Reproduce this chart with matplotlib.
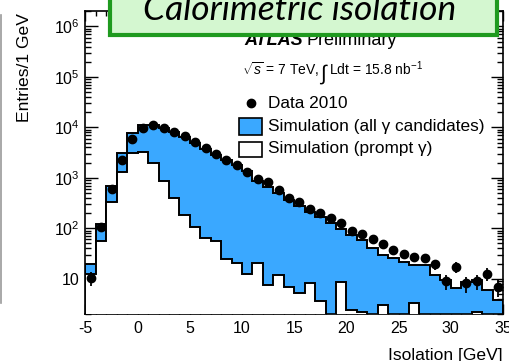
import numpy as np
import matplotlib
matplotlib.use("Agg")
import matplotlib.pyplot as plt
from matplotlib.patches import Rectangle
from matplotlib.ticker import FixedLocator, FixedFormatter, LogLocator, NullFormatter, MultipleLocator

# Isolation energy histograms, 1 GeV bins from -5 to 35 GeV
bin_edges = np.arange(-5, 36, 1)

sim_all_gamma = [19.8, 120, 695, 3126, 7780, 10960, 11220, 9780, 8150, 6490,
                 4930, 3750, 2850, 2270, 1807, 1366, 873, 664, 505, 367,
                 279, 212, 169, 129, 98, 74, 59, 41, 30, 26,
                 21.7, 18.9, 18.9, 12.0, 9.5, 6.6, 8.7, 9.5, 6.1, 3.8]

sim_prompt = [12.6, 56.5, 335, 1315, 3055, 3200, 1983, 873, 402, 181,
              105, 65, 56.5, 24.9, 20.7, 12.6, 20.7, 7.6, 12.0, 6.9,
              5.3, 8.3, 3.7, 0, 8.7, 2.43, 2.22, 0, 3.05, 0,
              0, 3.35, 0, 0, 0, 0, 0, 2.22, 0, 0]

data_2010 = [10.5, 107, 606, 2270, 5920, 9780, 11220, 9780, 7960, 6640,
             5050, 3925, 2985, 2270, 1807, 1315, 955, 815, 578, 402,
             335, 243, 198, 158, 126, 89, 78, 60.5, 48, 36.6,
             30.5, 26.7, 25.5, 19.4, 9.1, 16.9, 8.1, 8.9, 12.6, 6.9]

x_ticks = [-5, 0, 5, 10, 15, 20, 25, 30, 35]
y_ticks = [10, 1e2, 1e3, 1e4, 1e5, 1e6]
y_tick_labels = ["10", r"$10^{2}$", r"$10^{3}$", r"$10^{4}$", r"$10^{5}$", r"$10^{6}$"]

BLUE = "#3aa8ff"
W, H = 510, 361

plt.rcParams["font.family"] = ["Liberation Sans", "DejaVu Sans"]
plt.rcParams["axes.unicode_minus"] = False
plt.rcParams["mathtext.fontset"] = "custom"
plt.rcParams["mathtext.rm"] = "Liberation Sans"
plt.rcParams["mathtext.it"] = "Liberation Sans:italic"
plt.rcParams["mathtext.bf"] = "Liberation Sans:bold"
plt.rcParams["mathtext.sf"] = "Liberation Sans"


def fx(x):
    return x / W


def fy(y):
    return 1 - y / H


fig = plt.figure(figsize=(W / 100, H / 100), dpi=100)
ax = fig.add_axes([fx(85.5), fy(314), (503 - 85.5) / W, (314 - 11.3) / H])
ax.set_yscale("log")
ax.set_xlim(-5, 35)
ax.set_ylim(2, 2e6)

floor = 1e-3
all_vals = np.array(sim_all_gamma, dtype=float)
prompt_vals = np.array(sim_prompt, dtype=float)
prompt_vals = np.where(prompt_vals > 0, prompt_vals, floor)

ax.stairs(all_vals, bin_edges, baseline=floor, fill=True, color=BLUE, lw=0, zorder=2)
ax.stairs(all_vals, bin_edges, baseline=floor, fill=False, color="black", lw=1.4, zorder=3)
ax.stairs(prompt_vals, bin_edges, baseline=floor, fill=True, color="white", lw=0, zorder=4)
ax.stairs(prompt_vals, bin_edges, baseline=floor, fill=False, color="black", lw=1.4, zorder=5)

centers = 0.5 * (bin_edges[:-1] + bin_edges[1:])
d = np.array(data_2010, dtype=float)
ax.errorbar(centers, d, yerr=np.sqrt(d), fmt="o", color="black", ms=6,
            elinewidth=1.3, capsize=0, zorder=6, clip_on=True)

# axes styling
for s in ax.spines.values():
    s.set_linewidth(1.2)
ax.xaxis.set_major_locator(FixedLocator(x_ticks))
ax.xaxis.set_minor_locator(MultipleLocator(1))
ax.yaxis.set_major_locator(FixedLocator(y_ticks))
ax.yaxis.set_major_formatter(FixedFormatter(y_tick_labels))
ax.yaxis.set_minor_locator(LogLocator(base=10, subs=np.arange(2, 10)))
ax.yaxis.set_minor_formatter(NullFormatter())
ax.tick_params(which="both", direction="in", top=True, right=True, width=1.0,
               labelsize=11.5, colors="black")
ax.xaxis.set_tick_params(which="major", length=7, pad=5)
ax.xaxis.set_tick_params(which="minor", length=3.5)
ax.yaxis.set_tick_params(which="major", length=9, pad=4)
ax.yaxis.set_tick_params(which="minor", length=4.5)

fig.text(fx(24.5), fy(13), "Entries/1 GeV", rotation=90, ha="center", va="top", fontsize=12.6)
fig.text(fx(503), fy(360), "Isolation [GeV]", ha="right", va="baseline", fontsize=12.6)

# experiment labels
fig.text(fx(244), fy(45), "ATLAS", fontsize=13, fontweight="bold", fontstyle="italic", va="baseline")
fig.text(fx(307), fy(45), "Preliminary", fontsize=13, va="baseline")
fig.text(fx(242), fy(75), r"$\sqrt{s}$ = 7 TeV,", fontsize=10, va="baseline")
fig.text(fx(319), fy(80), r"$\int$", fontsize=15, va="baseline")
fig.text(fx(329), fy(75), r"Ldt = 15.8 nb$^{-1}$", fontsize=10, va="baseline")

# legend
fig.lines.append(plt.Line2D([fx(251)], [fy(103)], marker="o", color="black", ms=6,
                            transform=fig.transFigure))
fig.patches.append(Rectangle((fx(239), fy(135)), (262 - 239) / W, (135 - 118) / H,
                             facecolor=BLUE, edgecolor="black", lw=1.2, transform=fig.transFigure))
fig.patches.append(Rectangle((fx(239), fy(157)), (262 - 239) / W, (157 - 142) / H,
                             facecolor="white", edgecolor="black", lw=1.2, transform=fig.transFigure))
fig.text(fx(268), fy(108), "Data 2010", fontsize=12.4, va="baseline")
fig.text(fx(268), fy(131), "Simulation (all \u03b3 candidates)", fontsize=12.4, va="baseline")
fig.text(fx(268), fy(153), "Simulation (prompt \u03b3)", fontsize=12.4, va="baseline")

# title banner
banner = Rectangle((fx(110), fy(35)), (497 - 110) / W, 45 / H, facecolor="#d4f7d0",
                   edgecolor="#1f9a1f", lw=3.0, transform=fig.transFigure, zorder=10)
fig.patches.append(banner)
fig.text(fx(300), fy(20), "Calorimetric isolation", fontsize=25.5, fontstyle="italic",
         family=["Lato", "DejaVu Sans"], ha="center", va="baseline", zorder=11)

# page edge line on the left
fig.lines.append(plt.Line2D([fx(1), fx(1)], [fy(15), fy(303)], color="#9a9a9a", lw=1.2,
                            transform=fig.transFigure))

fig.savefig("out.png", dpi=100)
